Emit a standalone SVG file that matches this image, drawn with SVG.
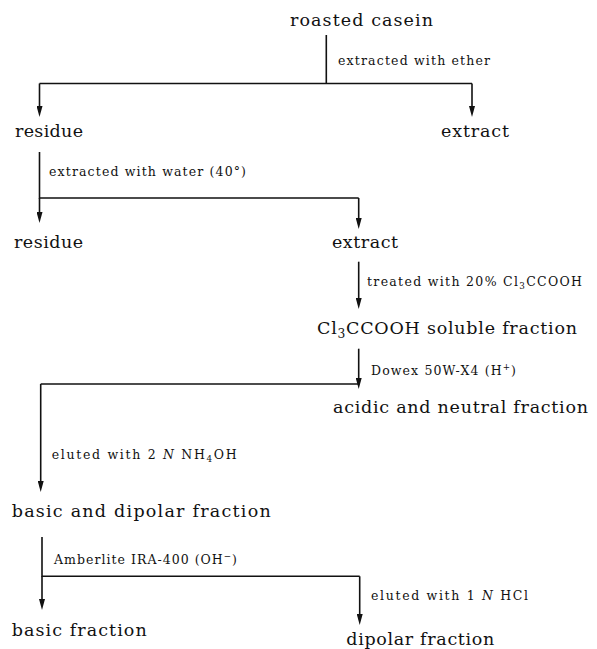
<svg xmlns="http://www.w3.org/2000/svg" width="597" height="649" viewBox="0 0 597 649">
  <style>
    .node { font-family: "DejaVu Serif", "Liberation Serif", serif; font-size: 17.5px; fill: #111; }
    .step { font-family: "DejaVu Serif", "Liberation Serif", serif; font-size: 12.5px; fill: #111; }
    .conn { fill: none; stroke: #111; stroke-width: 1.6; }
    .sub { font-size: 70%; }
  </style>
  <defs>
    <marker id="arrow" markerUnits="userSpaceOnUse" viewBox="0 0 11 6" refX="0" refY="3" markerWidth="11" markerHeight="6" orient="auto">
      <path d="M0,0 L11,3 L0,6 Z" fill="#111"/>
    </marker>
  </defs>
  <rect width="597" height="649" fill="#fff"/>

  <!-- connectors -->
  <g id="connectors">
    <!-- roasted casein: ether split -->
    <path class="conn" d="M326.3,35 V83.5 M39.5,83.5 H472"/>
    <path class="conn" d="M39.5,83.5 V106" marker-end="url(#arrow)"/>
    <path class="conn" d="M472,83.5 V106" marker-end="url(#arrow)"/>
    <!-- residue: water split -->
    <path class="conn" d="M39.5,152 V198 H358.7"/>
    <path class="conn" d="M39.5,198 V212" marker-end="url(#arrow)"/>
    <path class="conn" d="M358.7,198 V218" marker-end="url(#arrow)"/>
    <!-- extract: Cl3CCOOH treatment -->
    <path class="conn" d="M358.7,261.7 V298" marker-end="url(#arrow)"/>
    <!-- soluble fraction: Dowex split -->
    <path class="conn" d="M358.7,348.7 V378" marker-end="url(#arrow)"/>
    <path class="conn" d="M358.7,384 H40.7"/>
    <path class="conn" d="M40.7,384 V481" marker-end="url(#arrow)"/>
    <!-- basic and dipolar: Amberlite split -->
    <path class="conn" d="M42,537 V576.3 H359.7"/>
    <path class="conn" d="M42,576.3 V599" marker-end="url(#arrow)"/>
    <path class="conn" d="M359.7,576.3 V614" marker-end="url(#arrow)"/>
  </g>

  <!-- step labels -->
  <g id="step-labels">
    <text class="step" x="338" y="65" textLength="152" lengthAdjust="spacing">extracted with ether</text>
    <text class="step" x="49" y="176" textLength="197" lengthAdjust="spacing">extracted with water (40°)</text>
    <text class="step" x="367" y="286" textLength="215" lengthAdjust="spacing">treated with 20% Cl<tspan class="sub" dy="3">3</tspan><tspan dy="-3">CCOOH</tspan></text>
    <text class="step" x="371" y="375" textLength="145" lengthAdjust="spacing">Dowex 50W-X4 (H<tspan class="sub" dy="-5">+</tspan><tspan dy="5">)</tspan></text>
    <text class="step" x="51.7" y="459" textLength="185" lengthAdjust="spacing">eluted with 2 <tspan font-style="italic">N</tspan> NH<tspan class="sub" dy="3">4</tspan><tspan dy="-3">OH</tspan></text>
    <text class="step" x="54" y="564" textLength="183" lengthAdjust="spacing">Amberlite IRA-400 (OH<tspan class="sub" dy="-5">−</tspan><tspan dy="5">)</tspan></text>
    <text class="step" x="371" y="600" textLength="157" lengthAdjust="spacing">eluted with 1 <tspan font-style="italic">N</tspan> HCl</text>
  </g>

  <!-- nodes -->
  <g id="roasted-casein"><text class="node" x="290" y="26" textLength="143" lengthAdjust="spacing">roasted casein</text></g>
  <g id="ether-residue"><text class="node" x="15" y="137" textLength="68" lengthAdjust="spacing">residue</text></g>
  <g id="ether-extract"><text class="node" x="441" y="137" textLength="68" lengthAdjust="spacing">extract</text></g>
  <g id="water-residue"><text class="node" x="14" y="248" textLength="69" lengthAdjust="spacing">residue</text></g>
  <g id="water-extract"><text class="node" x="332" y="248" textLength="66" lengthAdjust="spacing">extract</text></g>
  <g id="soluble-fraction"><text class="node" x="317" y="334" textLength="260" lengthAdjust="spacing">Cl<tspan class="sub" dy="4">3</tspan><tspan dy="-4">CCOOH soluble fraction</tspan></text></g>
  <g id="acidic-neutral-fraction"><text class="node" x="333" y="413" textLength="255" lengthAdjust="spacing">acidic and neutral fraction</text></g>
  <g id="basic-dipolar-fraction"><text class="node" x="11.7" y="517" textLength="259" lengthAdjust="spacing">basic and dipolar fraction</text></g>
  <g id="basic-fraction"><text class="node" x="11.7" y="636" textLength="135" lengthAdjust="spacing">basic fraction</text></g>
  <g id="dipolar-fraction"><text class="node" x="346.3" y="645" textLength="148" lengthAdjust="spacing">dipolar fraction</text></g>
</svg>
